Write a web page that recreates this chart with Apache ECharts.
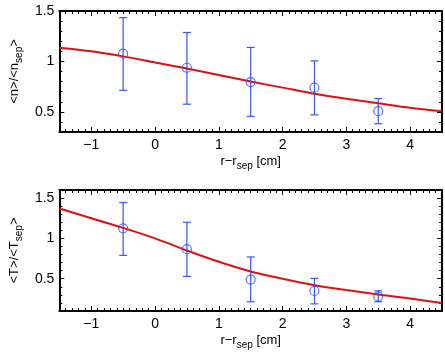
<!DOCTYPE html>
<html>
<head>
<meta charset="utf-8">
<script src="https://cdn.jsdelivr.net/npm/echarts@6/dist/echarts.min.js"></script>
<style>
  html, body { margin: 0; padding: 0; background: #fff; }
  #chart { width: 445px; height: 354px; }
</style>
</head>
<body>
<div id="chart"></div>
<script>
// radial positions and tick labels
const xTicks = [-1, 0, 1, 2, 3, 4];
const xPts = [-0.5, 0.5, 1.5, 2.5, 3.5];
// density ratio <n>/<n_sep>
const nMean = [1.077, 0.937, 0.795, 0.74, 0.507];
const nLow = [0.713, 0.576, 0.455, 0.47, 0.382];
const nHigh = [1.434, 1.287, 1.139, 1.005, 0.632];
const nTicks = [0.5, 1, 1.5];
// temperature ratio <T>/<T_sep>
const tMean = [1.125, 0.866, 0.49, 0.349, 0.28];
const tLow = [0.79, 0.529, 0.215, 0.188, 0.215];
const tHigh = [1.445, 1.2, 0.77, 0.504, 0.35];
const tTicks = [0.5, 1, 1.5];
// fitted curves
const fitX = [-1.5, -1, -0.5, 0, 0.5, 1, 1.5, 2, 2.5, 3, 3.5, 4, 4.5];
const nFit = [1.136, 1.10, 1.05, 0.99, 0.93, 0.865, 0.80, 0.74, 0.68, 0.63, 0.585, 0.54, 0.505];
const tFit = [1.37, 1.25, 1.13, 1.0, 0.85, 0.71, 0.59, 0.50, 0.42, 0.36, 0.305, 0.255, 0.20];

const FONT = 'Liberation Sans';
const RED = '#e01010';
const BLUE = '#3a55f0';

const chart = echarts.init(document.getElementById('chart'));

const grids = [
  { left: 51, top: 11, width: 391, height: 121 },
  { left: 51, top: 190, width: 391, height: 121 }
];

function fmtNum(v) {
  return String(+v.toFixed(2)).replace('-', '\u2212');
}

// per grid side pair: main axis (line + minor ticks + labels), major tick overlay, and the same mirrored
function makeAxes(gridIndex, dim, min, max, majors, name, nameGap) {
  const posA = dim === 'x' ? 'bottom' : 'left';
  const posB = dim === 'x' ? 'top' : 'right';
  const base = { type: 'value', gridIndex, min, max, interval: 0.1, splitLine: { show: false } };
  const line = { show: true, onZero: false, lineStyle: { color: '#000', width: 2 } };
  const noLine = { show: false, onZero: false };
  const minor = { show: true, inside: true, length: 3, lineStyle: { color: '#000', width: 1 } };
  const major = { show: true, inside: true, length: 5, customValues: majors, lineStyle: { color: '#000', width: 1 } };
  return [
    Object.assign({}, base, {
      position: posA,
      axisLine: line,
      axisTick: minor,
      axisLabel: {
        show: true, customValues: majors, color: '#000', fontFamily: FONT, fontSize: 14,
        margin: dim === 'x' ? 6 : 5, formatter: fmtNum
      },
      name, nameLocation: 'middle', nameGap,
      nameTextStyle: {
        color: '#000', fontFamily: FONT, fontSize: 13,
        rich: { s: { fontFamily: FONT, fontSize: 10, color: '#000', padding: [9, 0, 0, 0] } }
      }
    }),
    Object.assign({}, base, { position: posA, axisLine: noLine, axisTick: major, axisLabel: { show: false } }),
    Object.assign({}, base, { position: posB, axisLine: line, axisTick: minor, axisLabel: { show: false } }),
    Object.assign({}, base, { position: posB, axisLine: noLine, axisTick: major, axisLabel: { show: false } })
  ];
}

const xName = 'r\u2212r{s|sep} [cm]';
const xAxis = [].concat(
  makeAxes(0, 'x', -1.5, 4.5, xTicks, xName, 20),
  makeAxes(1, 'x', -1.5, 4.5, xTicks, xName, 20)
);
const yAxis = [].concat(
  makeAxes(0, 'y', 0.3, 1.5, nTicks, '<n>/<n{s|sep}>', 30),
  makeAxes(1, 'y', 0.1, 1.6, tTicks, '<T>/<T{s|sep}>', 30)
);
yAxis.forEach(a => { if (a.name) a.nameRotate = 90; });

function errorBars(idx, xs, lo, hi) {
  return {
    type: 'custom',
    xAxisIndex: idx * 4,
    yAxisIndex: idx * 4,
    clip: true,
    data: xs.map((x, i) => [x, lo[i], hi[i]]),
    renderItem(params, api) {
      const top = api.coord([api.value(0), api.value(2)]);
      const bot = api.coord([api.value(0), api.value(1)]);
      const w = 4;
      const style = { stroke: BLUE, lineWidth: 1.2 };
      return {
        type: 'group',
        children: [
          { type: 'line', shape: { x1: top[0], y1: top[1], x2: bot[0], y2: bot[1] }, style },
          { type: 'line', shape: { x1: top[0] - w, y1: top[1], x2: top[0] + w, y2: top[1] }, style },
          { type: 'line', shape: { x1: bot[0] - w, y1: bot[1], x2: bot[0] + w, y2: bot[1] }, style }
        ]
      };
    },
    z: 3
  };
}

function fitLine(idx, ys) {
  return {
    type: 'line',
    xAxisIndex: idx * 4,
    yAxisIndex: idx * 4,
    data: fitX.map((x, i) => [x, ys[i]]),
    smooth: 0.3,
    showSymbol: false,
    lineStyle: { color: RED, width: 2 },
    z: 4
  };
}

function points(idx, ys) {
  return {
    type: 'scatter',
    xAxisIndex: idx * 4,
    yAxisIndex: idx * 4,
    data: xPts.map((x, i) => [x, ys[i]]),
    symbol: 'circle',
    symbolSize: 9,
    itemStyle: { color: 'rgba(0,0,0,0)', borderColor: BLUE, borderWidth: 1.2 },
    z: 5
  };
}

chart.setOption({
  animation: false,
  grid: grids,
  xAxis,
  yAxis,
  series: [
    errorBars(0, xPts, nLow, nHigh),
    fitLine(0, nFit),
    points(0, nMean),
    errorBars(1, xPts, tLow, tHigh),
    fitLine(1, tFit),
    points(1, tMean)
  ]
});
</script>
</body>
</html>
